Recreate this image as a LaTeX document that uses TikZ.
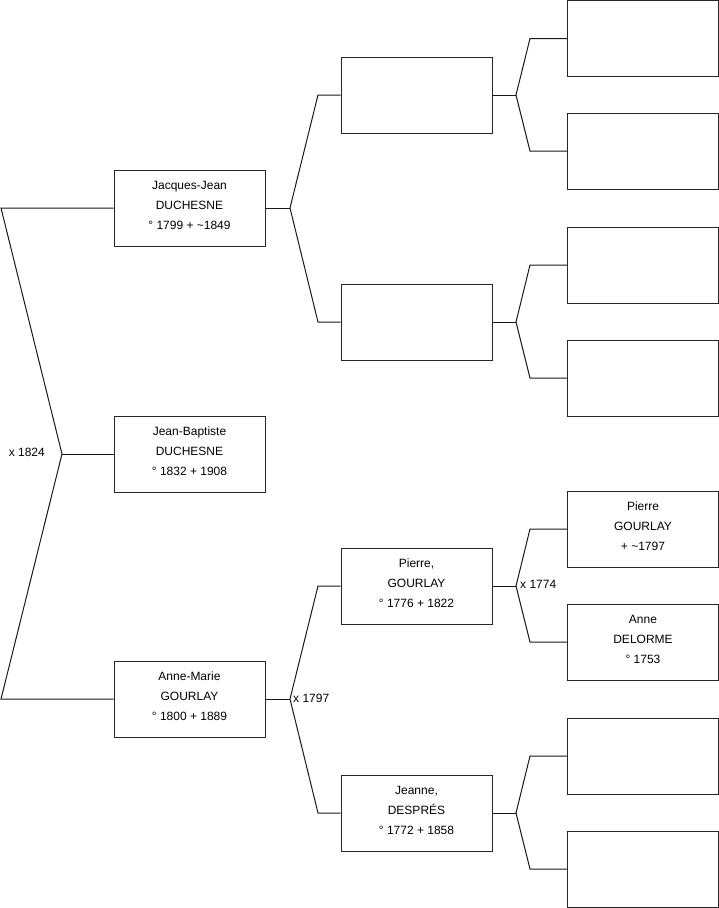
\documentclass[tikz,border=0pt]{standalone}
\usepackage{fontspec}
\setmainfont{Liberation Sans}
\begin{document}
\begin{tikzpicture}[x=1pt,y=-1pt,
  person/.style={draw=black!85,line width=1pt,minimum width=151pt,minimum height=76pt,inner sep=0pt,align=center,text depth=5pt,font=\fontsize{12}{20}\selectfont},
  link/.style={draw=black!90,line width=1pt},
  lbl/.style={inner sep=0pt,font=\fontsize{12}{14}\selectfont}]
\useasboundingbox (0,0) rectangle (719,908);
% generation 1
\node[person] (jj) at (189.5,208) {Jacques-Jean\\DUCHESNE\\° 1799 + \char`\~1849};
\node[person] (jb) at (189.5,454) {Jean-Baptiste\\DUCHESNE\\° 1832 + 1908};
\node[person] (am) at (189.5,699) {Anne-Marie\\GOURLAY\\° 1800 + 1889};
% generation 2
\node[person] (b1) at (416.5,95) {};
\node[person] (b2) at (416.5,322) {};
\node[person] (b3) at (416.5,586) {Pierre,\\GOURLAY\\° 1776 + 1822};
\node[person] (b4) at (416.5,813) {Jeanne,\\DESPRÉS\\° 1772 + 1858};
% generation 3
\node[person] (c1) at (643,38.5) {};
\node[person] (c2) at (643,151) {};
\node[person] (c3) at (643,265) {};
\node[person] (c4) at (643,378) {};
\node[person] (c5) at (643,529) {Pierre\\GOURLAY\\+ \char`\~1797};
\node[person] (c6) at (643,642) {Anne\\DELORME\\° 1753};
\node[person] (c7) at (643,756) {};
\node[person] (c8) at (643,869) {};
% fork 0
\coordinate (t0) at (1,208);
\coordinate (u0) at (1,699);
\coordinate (v0) at (62,454);
\draw[link] (jj.west) -- (t0) -- (v0) -- (u0) -- (am.west);
\draw[link] (v0) -- (jb.west);
\node[lbl,anchor=east] (m0) at (45,452) {x 1824};
% forks generation 1 -> 2
\coordinate (v1) at (290,208);
\coordinate (t1) at (318,95);
\coordinate (u1) at (318,322);
\draw[link] (jj.east) -- (v1);
\draw[link] (b1.west) -- (t1) -- (v1) -- (u1) -- (b2.west);
\coordinate (v2) at (290,699);
\coordinate (t2) at (318,586);
\coordinate (u2) at (318,813);
\draw[link] (am.east) -- (v2);
\draw[link] (b3.west) -- (t2) -- (v2) -- (u2) -- (b4.west);
\node[lbl,anchor=west] (m2) at (293,698) {x 1797};
% forks generation 2 -> 3
\foreach \p/\a/\b/\y in {b1/c1/c2/95,b2/c3/c4/322,b3/c5/c6/586,b4/c7/c8/813}{
  \coordinate (v\p) at (516,\y);
  \draw[link] (\p.east) -- (v\p);
  \draw[link] (\a.west) -- (\a.west -| 530,0) -- (v\p) -- (\b.west -| 530,0) -- (\b.west);
}
\node[lbl,anchor=west] (m3) at (520,584) {x 1774};
\end{tikzpicture}
\end{document}
